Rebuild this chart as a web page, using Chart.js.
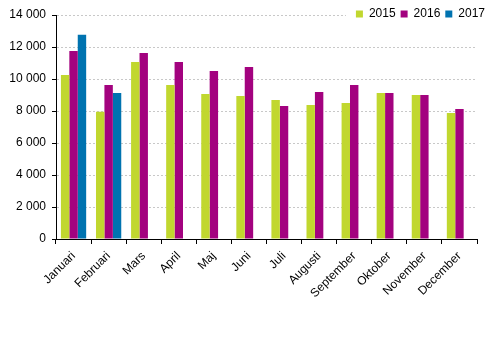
<!DOCTYPE html>
<html>
<head>
<meta charset="utf-8">
<script src="https://cdn.jsdelivr.net/npm/chart.js@4/dist/chart.umd.min.js"></script>
<style>
  html, body { margin: 0; padding: 0; background: #fff; }
  #wrap { width: 491px; height: 341px; }
</style>
</head>
<body>
<div id="wrap"><canvas id="chart"></canvas></div>
<script>
// Data
const months = ['Januari', 'Februari', 'Mars', 'April', 'Maj', 'Juni', 'Juli',
    'Augusti', 'September', 'Oktober', 'November', 'December'];
const values2015 = [10250, 7960, 11060, 9625, 9060, 8940, 8690, 8375, 8500, 9125, 9000, 7875];
const values2016 = [11750, 9625, 11625, 11060, 10500, 10750, 8310, 9190, 9625, 9125, 9000, 8125];
const values2017 = [12770, 9125, null, null, null, null, null, null, null, null, null, null];
const yTicks = [0, 2000, 4000, 6000, 8000, 10000, 12000, 14000];

const font = { family: '"Liberation Sans", Arial, sans-serif', size: 12 };

function fmt(v) {
    return String(v).replace(/\B(?=(\d{3})+(?!\d))/g, ' ');
}

// legend sits over the top of the plot area, like the original
const legendShift = {
    id: 'legendShift',
    afterLayout(chart) {
        const lg = chart.legend;
        if (!lg) return;
        lg.top += 3;
        lg.right += 13;
        lg.bottom = lg.top + 30;
    },
    afterDraw(chart) {
        const lg = chart.legend;
        if (!lg || !lg.legendHitBoxes.length) return;
        const ctx = chart.ctx;
        const x0 = lg.legendHitBoxes[0].left - 10;
        ctx.save();
        ctx.fillStyle = '#fff';
        ctx.fillRect(x0, lg.top + 2, chart.width - x0, 18);
        ctx.restore();
        lg.draw(chart.chartArea);
    }
};

new Chart(document.getElementById('chart'), {
    type: 'bar',
    data: {
        labels: months,
        datasets: [
            { label: '2015', data: values2015, backgroundColor: '#c1d72f' },
            { label: '2016', data: values2016, backgroundColor: '#a3027f' },
            { label: '2017', data: values2017, backgroundColor: '#0073b0' }
        ]
    },
    plugins: [legendShift],
    options: {
        responsive: true,
        maintainAspectRatio: false,
        animation: false,
        datasets: {
            bar: { categoryPercentage: 0.72, barPercentage: 1 }
        },
        layout: { padding: { top: 0, right: 14, bottom: 0, left: 0 } },
        plugins: {
            tooltip: { enabled: false },
            legend: {
                position: 'top',
                align: 'end',
                maxHeight: 15,
                labels: {
                    font: font,
                    color: '#000',
                    boxWidth: 7,
                    boxHeight: 7,
                    padding: 5
                }
            }
        },
        scales: {
            x: {
                grid: {
                    drawOnChartArea: false,
                    color: '#000',
                    tickColor: '#000',
                    tickLength: 5
                },
                border: { color: '#000', width: 1 },
                ticks: {
                    font: font,
                    color: '#000',
                    minRotation: 45,
                    maxRotation: 45,
                    autoSkip: false,
                    padding: 5
                },
                afterFit: (scale) => { scale.height = 102; }
            },
            y: {
                min: 0,
                max: 14000,
                afterBuildTicks: (scale) => {
                    scale.ticks = yTicks.map(v => ({ value: v }));
                },
                grid: {
                    color: '#c8c8c8',
                    tickColor: '#000',
                    tickLength: 4,
                    tickBorderDash: [0]
                },
                border: { color: '#000', width: 1, dash: [2, 2] },
                ticks: {
                    font: font,
                    color: '#000',
                    padding: 6,
                    callback: (v) => fmt(v)
                },
                afterFit: (scale) => { scale.width = 56; }
            }
        }
    }
});
</script>
</body>
</html>
